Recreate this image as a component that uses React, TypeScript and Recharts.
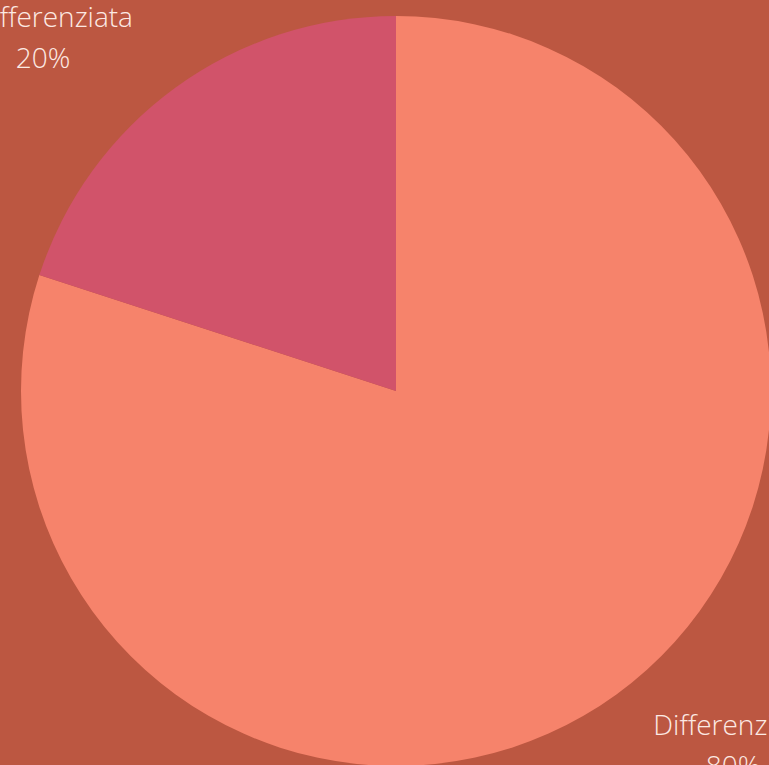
import React from "react";
import { PieChart, Pie, Cell } from "recharts";

const categories = ["Differenziata", "Indifferenziata"];
const values = [80, 20];
const colors = ["#F6836B", "#D1536A"];

const data = categories.map((name, i) => ({ name, value: values[i] }));

const RAD = Math.PI / 180;

// labels sit diagonally off the pie, two lines: name + percent
function renderLabel(props: any) {
  const { cx, cy, midAngle, name, percent } = props;
  const sx = Math.sign(Math.cos(-midAngle * RAD));
  const sy = Math.sign(Math.sin(-midAngle * RAD));
  const lx = cx - 8 + sx * 345;
  const ly = cy + 10 + sy * 354;
  return (
    <text
      x={lx}
      y={ly - 20}
      textAnchor="middle"
      fill="#FCEAE4"
      fontFamily="'Open Sans', sans-serif"
      fontWeight={300}
      fontSize={28}
    >
      <tspan x={lx} y={ly - 20}>{name}</tspan>
      <tspan x={lx} y={ly + 21}>{Math.round(percent * 100)}%</tspan>
    </text>
  );
}

export default function App() {
  return (
    <div style={{ position: "absolute", left: 0, top: 0, width: 769, height: 765, background: "#BC5741", overflow: "hidden" }}>
      <PieChart width={769} height={765}>
        <Pie
          data={data}
          dataKey="value"
          nameKey="name"
          cx={391}
          cy={386}
          outerRadius={375}
          startAngle={90}
          endAngle={-270}
          stroke="none"
          labelLine={false}
          label={renderLabel}
          isAnimationActive={false}
        >
          {data.map((d, i) => (
            <Cell key={d.name} fill={colors[i]} />
          ))}
        </Pie>
      </PieChart>
    </div>
  );
}
